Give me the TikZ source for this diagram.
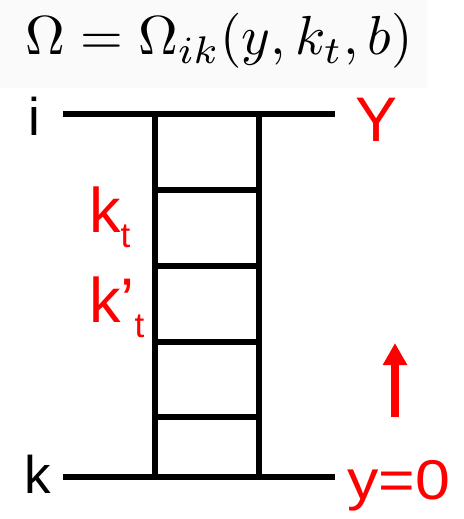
\documentclass[tikz,border=0pt]{standalone}
\usepackage{amsmath}
\usepackage{fontspec}
\setmainfont{Liberation Sans}
\usepackage{tikz}
\usetikzlibrary{arrows.meta,positioning}
\usepackage{xcolor}

\newcommand{\lowsub}[1]{\raisebox{-15pt}{\fontsize{35}{35}\selectfont #1}}

\begin{document}
\begin{tikzpicture}[x=1pt, y=-1pt,
    lbl/.style={inner sep=0pt, anchor=base west, font=\fontsize{53}{53}\selectfont},
    redlbl/.style={lbl, text=red, font=\fontsize{63}{63}\selectfont}]
        \useasboundingbox (0,0) rectangle (463,519);

        % formula
        \fill[black!2] (0,0) rectangle (427,88);
        \node[inner sep=0pt, anchor=base west, scale=5.5] (omega) at (24,55)
            {\fontsize{10}{12}\selectfont $\Omega = \Omega_{ik}(y, k_t, b)$};

        % end labels
        \node[lbl] (i) at (28.5,135) {i};
        \node[lbl] (k) at (24.5,493) {k};
        \node[redlbl] (Y) at (355,141) {Y};
        \node[redlbl, font=\fontsize{56}{56}\selectfont, xscale=1.12] (y0) at (347,499) {y=0};

        % ladder
        \coordinate (tl) at (63,114);
        \coordinate (tr) at (335,114);
        \coordinate (bl) at (63,477);
        \coordinate (br) at (335,477);
        \coordinate (lt) at (155,114);
        \coordinate (lb) at (155,477);
        \coordinate (rt) at (259,114);
        \coordinate (rb) at (259,477);
        \draw[line width=6pt] (tl) -- (tr);
        \draw[line width=6pt] (bl) -- (br);
        \draw[line width=6pt] (lt) -- (lb);
        \draw[line width=6pt] (rt) -- (rb);
        \foreach \h in {190,266,342,417}
            \draw[line width=6pt] (155,\h) -- (259,\h);

        % momenta
        \node[redlbl] (kt) at (89,232) {k\lowsub{t}};
        \node[redlbl] (ktp) at (89,322) {k’\lowsub{t}};

        % rapidity arrow
        \coordinate (a0) at (395,417);
        \coordinate (a1) at (395,343);
        \draw[red, line width=8pt, -{Triangle[width=23pt,length=22pt]}] (a0) -- (a1);
\end{tikzpicture}
\end{document}
